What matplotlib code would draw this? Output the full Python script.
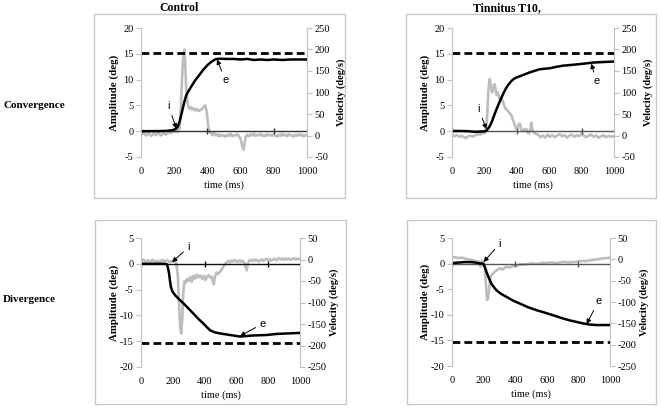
import matplotlib
matplotlib.use('Agg')
import matplotlib.pyplot as plt
from matplotlib.patches import Rectangle

plt.rcParams['font.family'] = ['Liberation Serif', 'DejaVu Serif']
plt.rcParams['axes.unicode_minus'] = False

# ---------------- data ----------------
col_titles = ['Control', 'Tinnitus T10,']
row_titles = ['Convergence', 'Divergence']
x_ticks = [0, 200, 400, 600, 800, 1000]
zero_line_ticks = [0, 400, 800]
conv_amp_ticks = [-5, 0, 5, 10, 15, 20]
conv_vel_ticks = [-50, 0, 50, 100, 150, 200, 250]
div_amp_ticks = [-20, -15, -10, -5, 0, 5]
div_vel_ticks = [-250, -200, -150, -100, -50, 0, 50]
conv_target = 15.2
div_target = -15.4

# Control - convergence
cc_amp_t = [0, 100, 150, 190, 210, 220, 230, 240, 250, 262, 272, 281, 300, 325, 349, 375,
            400, 418, 435, 450, 475, 520, 560, 600, 640, 680, 720, 760, 800, 850, 900, 950, 1000]
cc_amp = [0.0, 0.02, 0.05, 0.2, 0.45, 0.8, 1.6, 2.8, 4.2, 5.8, 6.9, 7.5, 8.5, 9.8, 10.8, 11.9,
          12.8, 13.3, 13.7, 13.95, 14.05, 14.0, 14.0, 13.9, 14.0, 13.8, 13.9, 13.8, 13.9, 13.8, 13.9, 13.9, 13.9]
cc_vel_t = [0, 15, 30, 45, 60, 75, 90, 105, 120, 135, 150, 165, 180, 195, 210, 222, 232, 240, 248,
            255, 261, 266, 272, 280, 287, 295, 303, 311, 320, 330, 340, 350, 360, 370, 380, 388, 396,
            404, 412, 420, 430, 440, 450, 460, 470, 480, 490, 500, 510, 520, 530, 540, 550, 560, 570,
            580, 590, 600, 610, 618, 625, 632, 640, 650, 660, 670, 680, 690, 700, 710, 720, 730, 740,
            750, 760, 770, 780, 790, 800, 810, 820, 830, 840, 850, 860, 870, 880, 890, 900, 910, 920,
            930, 940, 950, 960, 970, 980, 990, 1000]
cc_vel = [2, 6, 0, 5, -1, 4, 1, 6, 0, 5, 2, 7, 6, 9, 10, 8, 16, 60, 140, 185, 200, 170, 110, 75,
          65, 62, 66, 60, 63, 58, 61, 57, 60, 62, 68, 70, 55, 25, 8, 6, 1, 7, 0, 3, -2, 2, -1, 1, -3,
          2, -1, 4, -2, 1, 0, 3, -2, -8, -24, -33, -15, -2, 2, -2, 3, 0, 4, -1, 2, 0, 4, -1, 1, -2,
          3, 0, 2, -1, 3, 0, -3, 2, -1, 4, 0, 2, -2, 3, 0, 1, -3, 2, -1, 3, 0, 2, -2, 1, 0]

# Tinnitus - convergence
tc_amp_t = [0, 60, 100, 130, 160, 190, 205, 212, 228, 243, 258, 274, 290, 305, 320, 335, 350, 366,
            380, 397, 440, 480, 510, 541, 570, 603, 640, 685, 740, 788, 830, 870, 930, 1000]
tc_amp = [0.05, 0.03, 0.0, -0.1, -0.1, -0.05, 0.0, 0.1, 0.7, 1.6, 2.9, 4.2, 5.4, 6.5, 7.5, 8.4, 9.1,
          9.7, 10.1, 10.4, 10.9, 11.4, 11.7, 12.0, 12.1, 12.2, 12.45, 12.7, 12.85, 13.0, 13.15, 13.3, 13.4, 13.5]
tc_vel_t = [0, 15, 30, 45, 60, 75, 85, 100, 115, 130, 145, 160, 175, 190, 202, 210, 216, 224, 232,
            240, 247, 255, 263, 270, 274, 284, 291, 298, 306, 315, 325, 335, 344, 352, 360, 366, 376,
            387, 394, 401, 410, 418, 426, 434, 446, 459, 467, 475, 483, 490, 497, 504, 515, 531, 545,
            560, 575, 590, 605, 620, 635, 650, 665, 680, 695, 710, 725, 740, 755, 770, 785, 800, 815,
            830, 845, 860, 875, 890, 905, 920, 935, 950, 965, 980, 1000]
tc_vel = [0, -2, 1, -3, -1, -4, -6, -2, 0, -3, 1, 3, 2, 6, 5, 12, 40, 100, 131, 118, 100, 108, 119,
          105, 95, 100, 88, 80, 86, 78, 66, 60, 58, 54, 50, 48, 36, 25, 18, 15, 24, 28, 16, 10, 14,
          15, 6, 5, 14, 30, 12, 8, 4, 2, -4, 0, -5, 2, -3, 1, -4, 0, 3, -2, 1, -5, 0, 2, -3, 1, -2,
          4, -1, -4, 0, 2, -3, 0, -5, -2, 1, -4, -1, -3, -2]

# Control - divergence
cd_amp_t = [0, 60, 120, 150, 163, 170, 176, 182, 188, 198, 215, 240, 268, 300, 331, 362, 393, 415,
            435, 465, 498, 560, 623, 700, 791, 850, 920, 1000]
cd_amp = [0.0, 0.0, 0.0, 0.0, -0.1, -0.8, -1.8, -3.2, -4.5, -5.4, -6.1, -6.9, -7.7, -8.7, -9.7,
          -10.7, -11.6, -12.3, -12.9, -13.3, -13.5, -13.8, -14.1, -13.9, -13.8, -13.6, -13.5, -13.4]
cd_vel_t = [0, 15, 30, 45, 60, 75, 90, 105, 120, 135, 150, 165, 180, 195, 210, 222, 232, 240, 247,
            253, 259, 265, 272, 280, 290, 300, 310, 320, 330, 340, 350, 360, 372, 385, 395, 405, 415,
            425, 435, 445, 452, 458, 465, 475, 485, 498, 510, 520, 529, 540, 550, 560, 570, 580, 590,
            600, 610, 620, 630, 640, 650, 658, 665, 672, 680, 690, 700, 710, 720, 730, 740, 750, 760,
            770, 780, 790, 800, 810, 820, 830, 840, 850, 860, 870, 880, 890, 900, 910, 920, 930, 940,
            950, 960, 970, 980, 990, 1000]
cd_vel = [-4, 0, -6, -2, -5, -1, -6, -3, -5, -1, -4, -2, -6, -3, -5, -8, -40, -110, -160, -172,
          -140, -80, -50, -55, -45, -50, -40, -52, -38, -45, -35, -42, -37, -45, -38, -48, -40, -36,
          -42, -40, -52, -58, -40, -30, -34, -28, -22, -15, -10, -6, -3, -7, -2, -5, -1, -4, -6, -2,
          -5, -3, -8, -18, -25, -10, -3, -1, -4, 0, -3, -1, -5, -2, 0, -3, -1, 2, -2, 1, -3, 0, 2,
          -2, 1, 3, 0, 2, -1, 3, 0, 2, -1, 1, 3, 0, 2, 1, 2]

# Tinnitus - divergence
td_amp_t = [0, 40, 80, 120, 150, 175, 197, 208, 218, 233, 249, 265, 281, 310, 345, 385, 429, 480,
            535, 590, 641, 690, 746, 790, 831, 870, 915, 960, 1000]
td_amp = [0.1, 0.2, 0.3, 0.3, 0.2, 0.05, 0.0, -0.7, -1.6, -2.8, -3.9, -4.6, -5.2, -5.9, -6.5,
          -7.2, -7.8, -8.5, -9.1, -9.6, -10.1, -10.6, -11.1, -11.4, -11.7, -11.9, -12.0, -12.0, -12.0]
td_vel_t = [0, 20, 40, 60, 80, 100, 120, 140, 160, 170, 180, 190, 200, 207, 215, 222, 228, 235,
            243, 255, 270, 285, 302, 320, 340, 366, 390, 410, 430, 450, 480, 510, 540, 570, 598, 630,
            660, 704, 740, 780, 810, 850, 880, 915, 950, 980, 1000]
td_vel = [4, 5, 3, 4, 2, 0, -1, -3, -5, -6, -17, -3, -8, -14, -60, -95, -91, -70, -41, -35, -29,
          -25, -21, -24, -18, -19, -15, -15, -12, -12, -11, -9, -11, -8, -9, -7, -9, -6, -7, -6, -4,
          -4, -2, 0, 2, 3, 4]

GREY = '#bdbdbd'
SPINE = '#c0c0c0'
W, H = 661, 408

fig = plt.figure(figsize=(W / 100, H / 100), dpi=100)


def px_rect(x0, y0, x1, y1):
    return [x0 / W, 1 - y1 / H, (x1 - x0) / W, (y1 - y0) / H]


def panel(box, frame, t_amp, amp, t_vel, vel, target, ylim_l, ylim_r, yt_l, yt_r,
          zero_color, ann_i, ann_e):
    fig.add_artist(Rectangle((frame[0] / W, 1 - frame[3] / H), (frame[2] - frame[0]) / W,
                             (frame[3] - frame[1]) / H, transform=fig.transFigure,
                             fill=False, edgecolor='#c8c8c8', lw=1))
    ax = fig.add_axes(px_rect(*box))
    ax2 = ax.twinx()
    ax.set_zorder(ax2.get_zorder() + 1)
    ax.patch.set_visible(False)
    wpx = box[2] - box[0]
    hpx = box[3] - box[1]

    ax2.plot(t_vel, vel, color=GREY, lw=1.9, solid_joinstyle='round')
    ax.axhline(0, color=zero_color, lw=1.0)
    ax.plot(zero_line_ticks, [0] * len(zero_line_ticks), ls='none', marker='|',
            color=zero_color, ms=5, mew=1)
    ax.axhline(target, color='black', lw=2.0, ls=(0, (2.8, 1.5)))
    ax.plot(t_amp, amp, color='black', lw=1.8)

    ax.set_xlim(0, 1000)
    ax.set_ylim(*ylim_l)
    ax2.set_ylim(*ylim_r)
    ax.set_xticks(x_ticks)
    ax.set_yticks(yt_l)
    ax2.set_yticks(yt_r)
    for s in ['top', 'bottom', 'right']:
        ax.spines[s].set_visible(False)
    for s in ['top', 'bottom', 'left']:
        ax2.spines[s].set_visible(False)
    ax.spines['left'].set_color(SPINE)
    ax2.spines['right'].set_color(SPINE)
    ax.tick_params(axis='x', length=0, pad=7, labelsize=7.5)
    ax.tick_params(axis='y', length=3.5, width=0.8, color=SPINE, pad=2, labelsize=7.5)
    ax2.tick_params(axis='y', length=3.5, width=0.8, color=SPINE, pad=2, labelsize=7.5)

    ax.set_xlabel('time (ms)', fontsize=7.5, va='center')
    ax.xaxis.set_label_coords(0.5, -28 / hpx)
    ax.set_ylabel('Amplitude (deg)', fontsize=7.8, fontweight='bold', va='center')
    ax.yaxis.set_label_coords(-27 / wpx, 0.5)
    ax2.set_ylabel('Velocity (deg/s)', fontsize=7.5, fontweight='bold', va='center')
    ax2.yaxis.set_label_coords(1 + 34 / wpx, 0.5)

    ap = dict(arrowstyle='-|>', color='black', lw=0.7, mutation_scale=7, shrinkA=1, shrinkB=0)
    ax.annotate('i', xy=ann_i[0], xytext=ann_i[1], ha='center', va='center',
                fontsize=8, family='Liberation Sans', arrowprops=ap)
    ax.annotate('e', xy=ann_e[0], xytext=ann_e[1], ha='center', va='center',
                fontsize=8, family='Liberation Sans', arrowprops=ap)


panel((141, 28, 307, 157), (94, 14, 345, 198), cc_amp_t, cc_amp, cc_vel_t, cc_vel, conv_target,
      (-5, 20), (-50, 250), conv_amp_ticks, conv_vel_ticks, '#333333',
      ((213, 0.5), (167, 4.8)), ((458, 13.9), (508, 9.9)))
panel((452, 28, 614, 157), (406, 14, 656, 198), tc_amp_t, tc_amp, tc_vel_t, tc_vel, conv_target,
      (-5, 20), (-50, 250), conv_amp_ticks, conv_vel_ticks, '#555555',
      ((212, 0.4), (165, 4.3)), ((860, 13.1), (891, 9.7)))
panel((141, 238, 300, 367), (95, 220, 346, 404), cd_amp_t, cd_amp, cd_vel_t, cd_vel, div_target,
      (-20, 5), (-250, 50), div_amp_ticks, div_vel_ticks, '#111111',
      ((195, 0.3), (299, 3.2)), ((623, -14.0), (766, -11.6)))
panel((452, 238, 610, 366), (407, 220, 656, 404), td_amp_t, td_amp, td_vel_t, td_vel, div_target,
      (-20, 5), (-250, 50), div_amp_ticks, div_vel_ticks, '#555555',
      ((200, 0.3), (302, 3.9)), ((852, -11.8), (926, -7.4)))

fig.text(179 / W, 1 - 8 / H, col_titles[0], ha='center', va='center', fontsize=8.5, fontweight='bold')
fig.text(507 / W, 1 - 8 / H, col_titles[1], ha='center', va='center', fontsize=8.5, fontweight='bold')
fig.text(3 / W, 1 - 105 / H, row_titles[0], ha='left', va='center', fontsize=8, fontweight='bold')
fig.text(3 / W, 1 - 300 / H, row_titles[1], ha='left', va='center', fontsize=8, fontweight='bold')

fig.savefig('out.png', dpi=100)
